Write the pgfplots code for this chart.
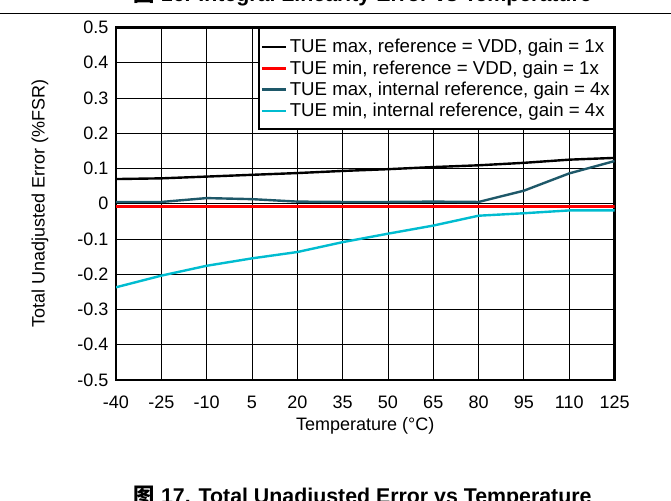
\documentclass[border=0pt]{standalone}
\usepackage{pgfplots}
\pgfplotsset{compat=1.18}
\usepackage{fontspec}
\setmainfont{Liberation Sans}
\newfontfamily\cjk{Noto Sans CJK SC}
\definecolor{tealdark}{RGB}{30,88,105}
\definecolor{cyanl}{RGB}{0,188,208}
\newcommand{\lbl}{\fontsize{13.5}{16}\selectfont}
\newcommand{\lgd}{\fontsize{14}{16.5}\selectfont}
\begin{document}
\begin{tikzpicture}
\begin{axis}[
  at={(87pt,90pt)}, anchor=south west,
  scale only axis, width=373.9pt, height=264.4pt,
  xmin=-40, xmax=125, ymin=-0.5, ymax=0.5,
  xtick={-40,-25,-10,5,20,35,50,65,80,95,110,125},
  ytick={-0.5,-0.4,-0.3,-0.2,-0.1,0,0.1,0.2,0.3,0.4,0.5},
  xticklabels={-40,-25,-10,5,20,35,50,65,80,95,110,125},
  yticklabels={-0.5,-0.4,-0.3,-0.2,-0.1,0,0.1,0.2,0.3,0.4,0.5},
  grid=major, major grid style={black, line width=0.6pt},
  axis line style={line width=2.2pt},
  tick style={draw=none},
  ticklabel style={font=\lbl},
  xticklabel style={anchor=base, yshift=-21pt},
  yticklabel style={anchor=east, xshift=-2.25pt},
  xlabel={Temperature (°C)},
  ylabel={Total Unadjusted Error (\%FSR)},
  label style={font=\lbl},
  x label style={at={(axis description cs:0.5,0)}, anchor=base, yshift=-37.5pt},
  y label style={at={(axis description cs:0,0.5)}, anchor=center, rotate=0, yshift=57pt},
  legend style={at={(1,1)}, anchor=north east, draw=black, line width=1.5pt,
    font=\lgd, cells={anchor=west}, row sep=0.4pt, inner xsep=0.75pt, inner ysep=6pt},
  legend image code/.code={\path (0pt,0pt) -- (18pt,0pt); \draw[#1, line width=2pt] (4pt,0pt) -- (16pt,0pt);},
  clip=true,
]
\addplot[black, line width=1.8pt] coordinates {(-40,0.070) (-25,0.072) (-10,0.077) (5,0.082) (20,0.087) (35,0.093) (50,0.098) (65,0.104) (80,0.109) (95,0.116) (110,0.125) (125,0.130)};
\addlegendentry{TUE max, reference = VDD, gain = 1x}
\addplot[red, line width=2pt] coordinates {(-40,-0.008) (-25,-0.008) (-10,-0.008) (5,-0.008) (20,-0.008) (35,-0.008) (50,-0.008) (65,-0.008) (80,-0.008) (95,-0.008) (110,-0.008) (125,-0.008)};
\addlegendentry{TUE min, reference = VDD, gain = 1x}
\addplot[tealdark, line width=1.8pt] coordinates {(-40,0.005) (-25,0.005) (-10,0.016) (5,0.013) (20,0.006) (35,0.005) (50,0.005) (65,0.006) (80,0.005) (95,0.037) (110,0.086) (125,0.121)};
\addlegendentry{TUE max, internal reference, gain = 4x}
\addplot[cyanl, line width=1.8pt] coordinates {(-40,-0.237) (-25,-0.204) (-10,-0.176) (5,-0.155) (20,-0.137) (35,-0.109) (50,-0.085) (65,-0.062) (80,-0.034) (95,-0.027) (110,-0.019) (125,-0.019)};
\addlegendentry{TUE min, internal reference, gain = 4x}
\end{axis}
\draw[line width=0.75pt] (0pt,364.5pt) -- (503.25pt,364.5pt);
\node[anchor=base, font=\bfseries\fontsize{16}{19}\selectfont, inner sep=0pt] at (272pt,373.5pt) {{\cjk\bfseries 图} 16. Integral Linearity Error vs Temperature};
\node[anchor=base, font=\bfseries\fontsize{16}{19}\selectfont, inner sep=0pt] at (272pt,-2.25pt) {{\cjk\bfseries 图} 17. Total Unadjusted Error vs Temperature};
\pgfresetboundingbox
\useasboundingbox (0pt,0pt) rectangle (503.25pt,375pt);
\end{tikzpicture}
\end{document}
